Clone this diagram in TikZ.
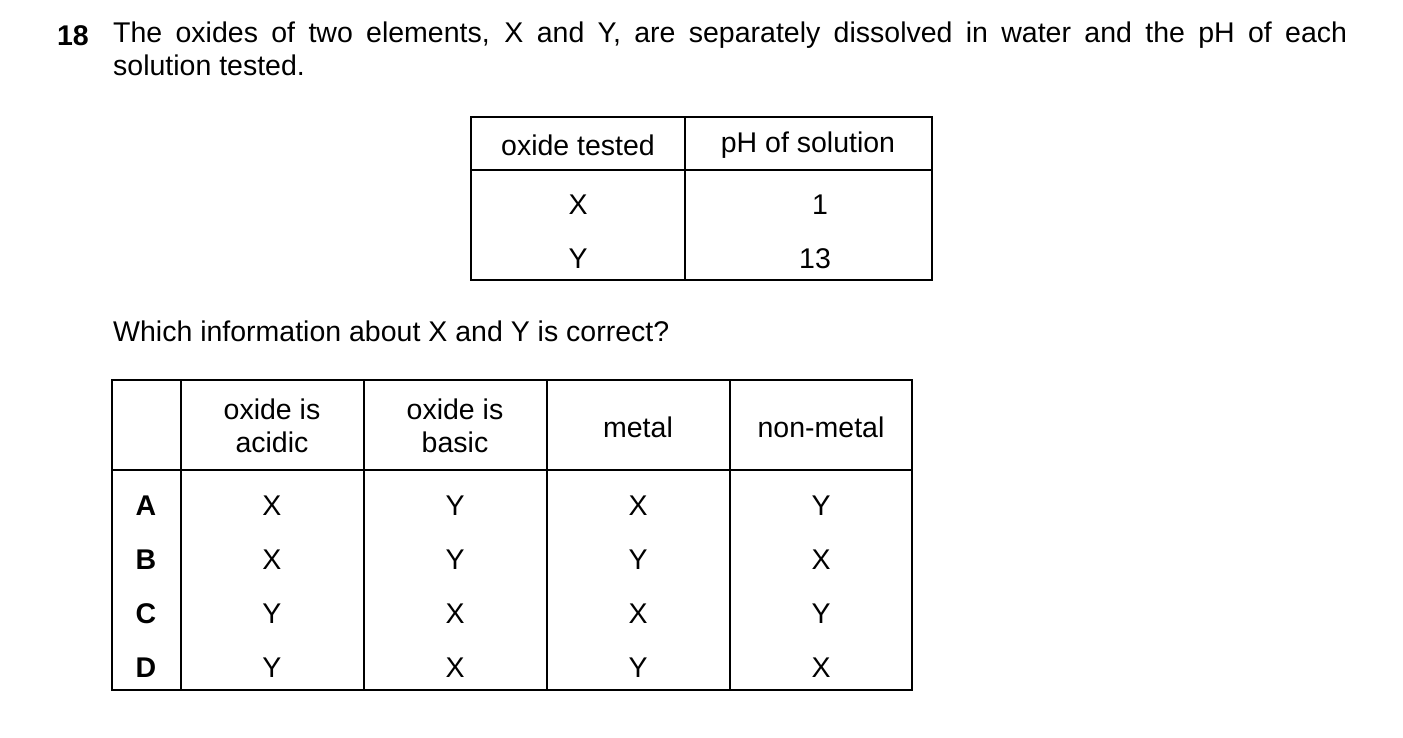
\documentclass[tikz,border=0pt]{standalone}
\usepackage{fontspec}
\setmainfont{Liberation Sans}
\begin{document}
\begin{tikzpicture}[x=1pt,y=-1pt,
  txt/.style={inner sep=0pt,font=\fontsize{28.5}{33}\selectfont},
  rule/.style={black,line width=1.3pt}]
	  \useasboundingbox (0,0) rectangle (1403,737);

	  \node[txt,font=\fontsize{28.5}{33}\selectfont\bfseries] (num) at (73,36) {18};
	  \node[txt,anchor=north west,text width=1234pt,align=justify] (stem) at (113,22)
	    {The oxides of two elements, X and Y, are separately dissolved in water and the pH of each\linebreak solution tested.};

	  % first table
	  \draw[rule] (471,117) rectangle (932,280);
	  \draw[rule] (471,170) -- (932,170);
	  \draw[rule] (685,117) -- (685,280);
	  \node[txt] (h1) at (578,145) {oxide tested};
	  \node[txt] (h2) at (808,145) {pH of solution};
	  \node[txt] (ox) at (578,205) {X};
	  \node[txt] (oy) at (578,259) {Y};
	  \node[txt] (px) at (820,205) {1};
	  \node[txt] (py) at (815,259) {13};

	  \node[txt,anchor=west] (ask) at (113,331) {Which information about X and Y is correct?};

	  % second table
	  \draw[rule] (112,380) rectangle (912,690);
	  \draw[rule] (112,470) -- (912,470);
	  \foreach \x in {181,364,547,730} {
	    \draw[rule] (\x,380) -- (\x,690);
	  }
	  \node[txt,align=center] (c1) at (272,426) {oxide is\\acidic};
	  \node[txt,align=center] (c2) at (455,426) {oxide is\\basic};
	  \node[txt] (c3) at (638,427) {metal};
	  \node[txt] (c4) at (821,427) {non-metal};

	  \foreach \l/\a/\b/\c/\d [count=\i] in {A/X/Y/X/Y, B/X/Y/Y/X, C/Y/X/X/Y, D/Y/X/Y/X} {
	    \node[txt,font=\fontsize{28.5}{33}\selectfont\bfseries] (r\i) at (146,452+54*\i) {\l};
	    \node[txt] (r\i a) at (272,452+54*\i) {\a};
	    \node[txt] (r\i b) at (455,452+54*\i) {\b};
	    \node[txt] (r\i c) at (638,452+54*\i) {\c};
	    \node[txt] (r\i d) at (821,452+54*\i) {\d};
	  }
	\end{tikzpicture}
\end{document}
